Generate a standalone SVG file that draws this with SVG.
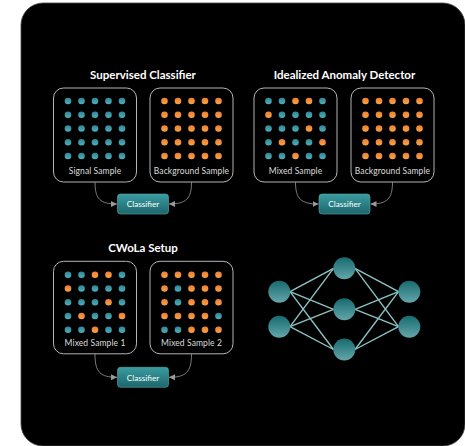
<svg xmlns="http://www.w3.org/2000/svg" xmlns:xlink="http://www.w3.org/1999/xlink" width="465" height="446" viewBox="0 0 465 446">
<defs>
<linearGradient id="gT" x1="0" y1="0" x2="0" y2="1"><stop offset="0" stop-color="#2f8593"/><stop offset="1" stop-color="#4fb0bc"/></linearGradient>
<linearGradient id="gO" x1="0" y1="0" x2="0" y2="1"><stop offset="0" stop-color="#ee7d35"/><stop offset="1" stop-color="#f7a442"/></linearGradient>
<linearGradient id="gC" x1="0" y1="0" x2="0" y2="1"><stop offset="0" stop-color="#3b9ca1"/><stop offset="1" stop-color="#1c666c"/></linearGradient>
<linearGradient id="gN" x1="0" y1="0" x2="0" y2="1"><stop offset="0" stop-color="#176a6f"/><stop offset="1" stop-color="#63a6aa"/></linearGradient>
<circle id="t" r="3.3" fill="url(#gT)"/>
<circle id="o" r="3.3" fill="url(#gO)"/>
<marker id="ah" viewBox="0 0 10 10" refX="10" refY="5" markerWidth="6" markerHeight="6" orient="auto" markerUnits="userSpaceOnUse"><path d="M0,0 L10,5 L0,10 z" fill="#9a9a9a"/></marker>
<style>
.title{font-family:Lato,"Open Sans",sans-serif;font-weight:bold;font-size:11.5px;fill:#ffffff;text-anchor:middle}
.lbl{font-family:Lato,"Open Sans",sans-serif;font-size:8.5px;fill:#dddddd;text-anchor:middle;letter-spacing:0.1px}
.box{fill:#000;stroke:#b5b5b5;stroke-width:1}
.clf{fill:url(#gC);stroke:#5aa9ad;stroke-width:0.6}
.clft{font-family:Lato,"Open Sans",sans-serif;font-size:8.2px;fill:#ffffff;text-anchor:middle}
.conn{fill:none;stroke:#8a8a8a;stroke-width:0.9;marker-end:url(#ah)}
.edge{stroke:#8cc3c3;stroke-width:1.4}
.node{fill:url(#gN)}
</style>
</defs>
<rect x="21" y="3" width="444" height="443" rx="22" fill="#000" stroke="#444" stroke-width="0.8"/>

<!-- Panel 1 -->
<g id="panel-supervised">
<text class="title" x="143" y="79">Supervised Classifier</text>
<g id="p1-signal">
<rect class="box" x="53.5" y="88" width="83" height="94" rx="10"/>
<g transform="translate(95,0)">
<use href="#t" x="-27" y="101"/><use href="#t" x="-13.5" y="101"/><use href="#t" x="0" y="101"/><use href="#t" x="13.5" y="101"/><use href="#t" x="27" y="101"/>
<use href="#t" x="-27" y="114.75"/><use href="#t" x="-13.5" y="114.75"/><use href="#t" x="0" y="114.75"/><use href="#t" x="13.5" y="114.75"/><use href="#t" x="27" y="114.75"/>
<use href="#t" x="-27" y="128.5"/><use href="#t" x="-13.5" y="128.5"/><use href="#t" x="0" y="128.5"/><use href="#t" x="13.5" y="128.5"/><use href="#t" x="27" y="128.5"/>
<use href="#t" x="-27" y="142.25"/><use href="#t" x="-13.5" y="142.25"/><use href="#t" x="0" y="142.25"/><use href="#t" x="13.5" y="142.25"/><use href="#t" x="27" y="142.25"/>
<use href="#t" x="-27" y="156"/><use href="#t" x="-13.5" y="156"/><use href="#t" x="0" y="156"/><use href="#t" x="13.5" y="156"/><use href="#t" x="27" y="156"/>
</g>
<text class="lbl" x="95" y="173.5">Signal Sample</text>
</g>
<g id="p1-background">
<rect class="box" x="150" y="88" width="83" height="94" rx="10"/>
<g transform="translate(191.5,0)">
<use href="#o" x="-27" y="101"/><use href="#o" x="-13.5" y="101"/><use href="#o" x="0" y="101"/><use href="#o" x="13.5" y="101"/><use href="#o" x="27" y="101"/>
<use href="#o" x="-27" y="114.75"/><use href="#o" x="-13.5" y="114.75"/><use href="#o" x="0" y="114.75"/><use href="#o" x="13.5" y="114.75"/><use href="#o" x="27" y="114.75"/>
<use href="#o" x="-27" y="128.5"/><use href="#o" x="-13.5" y="128.5"/><use href="#o" x="0" y="128.5"/><use href="#o" x="13.5" y="128.5"/><use href="#o" x="27" y="128.5"/>
<use href="#o" x="-27" y="142.25"/><use href="#o" x="-13.5" y="142.25"/><use href="#o" x="0" y="142.25"/><use href="#o" x="13.5" y="142.25"/><use href="#o" x="27" y="142.25"/>
<use href="#o" x="-27" y="156"/><use href="#o" x="-13.5" y="156"/><use href="#o" x="0" y="156"/><use href="#o" x="13.5" y="156"/><use href="#o" x="27" y="156"/>
</g>
<text class="lbl" x="191.5" y="173.5">Background Sample</text>
</g>
<g id="p1-classifier">
<rect class="clf" x="117.5" y="194" width="51" height="20" rx="3"/>
<text class="clft" x="143" y="207.3">Classifier</text>
</g>
</g>

<!-- Panel 2 -->
<g id="panel-idealized">
<text class="title" x="344.5" y="79">Idealized Anomaly Detector</text>
<g id="p2-mixed">
<rect class="box" x="254" y="88" width="83" height="94" rx="10"/>
<g transform="translate(295.5,0)">
<use href="#t" x="-27" y="101"/><use href="#t" x="-13.5" y="101"/><use href="#o" x="0" y="101"/><use href="#o" x="13.5" y="101"/><use href="#t" x="27" y="101"/>
<use href="#o" x="-27" y="114.75"/><use href="#t" x="-13.5" y="114.75"/><use href="#t" x="0" y="114.75"/><use href="#t" x="13.5" y="114.75"/><use href="#t" x="27" y="114.75"/>
<use href="#t" x="-27" y="128.5"/><use href="#t" x="-13.5" y="128.5"/><use href="#t" x="0" y="128.5"/><use href="#o" x="13.5" y="128.5"/><use href="#t" x="27" y="128.5"/>
<use href="#t" x="-27" y="142.25"/><use href="#o" x="-13.5" y="142.25"/><use href="#t" x="0" y="142.25"/><use href="#t" x="13.5" y="142.25"/><use href="#o" x="27" y="142.25"/>
<use href="#t" x="-27" y="156"/><use href="#t" x="-13.5" y="156"/><use href="#o" x="0" y="156"/><use href="#t" x="13.5" y="156"/><use href="#t" x="27" y="156"/>
</g>
<text class="lbl" x="295.5" y="173.5">Mixed Sample</text>
</g>
<g id="p2-background">
<rect class="box" x="351" y="88" width="83" height="94" rx="10"/>
<g transform="translate(392.5,0)">
<use href="#o" x="-27" y="101"/><use href="#o" x="-13.5" y="101"/><use href="#o" x="0" y="101"/><use href="#o" x="13.5" y="101"/><use href="#o" x="27" y="101"/>
<use href="#o" x="-27" y="114.75"/><use href="#o" x="-13.5" y="114.75"/><use href="#o" x="0" y="114.75"/><use href="#o" x="13.5" y="114.75"/><use href="#o" x="27" y="114.75"/>
<use href="#o" x="-27" y="128.5"/><use href="#o" x="-13.5" y="128.5"/><use href="#o" x="0" y="128.5"/><use href="#o" x="13.5" y="128.5"/><use href="#o" x="27" y="128.5"/>
<use href="#o" x="-27" y="142.25"/><use href="#o" x="-13.5" y="142.25"/><use href="#o" x="0" y="142.25"/><use href="#o" x="13.5" y="142.25"/><use href="#o" x="27" y="142.25"/>
<use href="#o" x="-27" y="156"/><use href="#o" x="-13.5" y="156"/><use href="#o" x="0" y="156"/><use href="#o" x="13.5" y="156"/><use href="#o" x="27" y="156"/>
</g>
<text class="lbl" x="392.5" y="173.5">Background Sample</text>
</g>
<g id="p2-classifier">
<rect class="clf" x="319" y="194" width="51" height="20" rx="3"/>
<text class="clft" x="344.5" y="207.3">Classifier</text>
</g>
</g>

<!-- Panel 3 -->
<g id="panel-cwola">
<text class="title" x="143" y="252.3">CWoLa Setup</text>
<g id="p3-mixed1">
<rect class="box" x="53.5" y="261.3" width="83" height="92.5" rx="10"/>
<g transform="translate(95,173.8)">
<use href="#t" x="-27" y="101"/><use href="#t" x="-13.5" y="101"/><use href="#o" x="0" y="101"/><use href="#o" x="13.5" y="101"/><use href="#t" x="27" y="101"/>
<use href="#o" x="-27" y="114.75"/><use href="#t" x="-13.5" y="114.75"/><use href="#t" x="0" y="114.75"/><use href="#t" x="13.5" y="114.75"/><use href="#t" x="27" y="114.75"/>
<use href="#t" x="-27" y="128.5"/><use href="#t" x="-13.5" y="128.5"/><use href="#t" x="0" y="128.5"/><use href="#o" x="13.5" y="128.5"/><use href="#t" x="27" y="128.5"/>
<use href="#t" x="-27" y="142.25"/><use href="#o" x="-13.5" y="142.25"/><use href="#t" x="0" y="142.25"/><use href="#t" x="13.5" y="142.25"/><use href="#o" x="27" y="142.25"/>
<use href="#t" x="-27" y="156"/><use href="#t" x="-13.5" y="156"/><use href="#o" x="0" y="156"/><use href="#t" x="13.5" y="156"/><use href="#t" x="27" y="156"/>
</g>
<text class="lbl" x="95" y="346">Mixed Sample 1</text>
</g>
<g id="p3-mixed2">
<rect class="box" x="150" y="261.3" width="83" height="92.5" rx="10"/>
<g transform="translate(191.5,173.8)">
<use href="#o" x="-27" y="101"/><use href="#o" x="-13.5" y="101"/><use href="#o" x="0" y="101"/><use href="#o" x="13.5" y="101"/><use href="#o" x="27" y="101"/>
<use href="#o" x="-27" y="114.75"/><use href="#t" x="-13.5" y="114.75"/><use href="#o" x="0" y="114.75"/><use href="#o" x="13.5" y="114.75"/><use href="#o" x="27" y="114.75"/>
<use href="#o" x="-27" y="128.5"/><use href="#t" x="-13.5" y="128.5"/><use href="#o" x="0" y="128.5"/><use href="#o" x="13.5" y="128.5"/><use href="#o" x="27" y="128.5"/>
<use href="#o" x="-27" y="142.25"/><use href="#o" x="-13.5" y="142.25"/><use href="#o" x="0" y="142.25"/><use href="#o" x="13.5" y="142.25"/><use href="#t" x="27" y="142.25"/>
<use href="#t" x="-27" y="156"/><use href="#t" x="-13.5" y="156"/><use href="#o" x="0" y="156"/><use href="#o" x="13.5" y="156"/><use href="#o" x="27" y="156"/>
</g>
<text class="lbl" x="191.5" y="346">Mixed Sample 2</text>
</g>
<g id="p3-classifier">
<rect class="clf" x="117.5" y="367.3" width="51" height="20" rx="3"/>
<text class="clft" x="143" y="380.6">Classifier</text>
</g>
</g>

<!-- Connectors -->
<g id="connectors">
<path class="conn" d="M95,182 C95,199 100,204 117,204"/>
<path class="conn" d="M191.5,182 C191.5,199 186,204 169,204"/>
<path class="conn" d="M295.5,182 C295.5,199 301,204 318.5,204"/>
<path class="conn" d="M392.5,182 C392.5,199 387,204 370.5,204"/>
<path class="conn" d="M95,354 C95,372 100,377.3 117,377.3"/>
<path class="conn" d="M191.5,354 C191.5,372 186,377.3 169,377.3"/>
</g>

<!-- Neural network -->
<g id="neural-net">
<g id="nn-edges">
<line class="edge" x1="290" y1="291.7" x2="333.5" y2="268.3"/>
<line class="edge" x1="290" y1="291.7" x2="333.5" y2="309.3"/>
<line class="edge" x1="290" y1="291.7" x2="333.5" y2="349.5"/>
<line class="edge" x1="290" y1="326.7" x2="333.5" y2="268.3"/>
<line class="edge" x1="290" y1="326.7" x2="333.5" y2="309.3"/>
<line class="edge" x1="290" y1="326.7" x2="333.5" y2="349.5"/>
<line class="edge" x1="355" y1="268.3" x2="398.5" y2="291.7"/>
<line class="edge" x1="355" y1="309.3" x2="398.5" y2="291.7"/>
<line class="edge" x1="355" y1="349.5" x2="398.5" y2="291.7"/>
<line class="edge" x1="355" y1="268.3" x2="398.5" y2="326.7"/>
<line class="edge" x1="355" y1="309.3" x2="398.5" y2="326.7"/>
<line class="edge" x1="355" y1="349.5" x2="398.5" y2="326.7"/>
</g>
<circle id="nn-in1" class="node" cx="279.3" cy="291.7" r="11"/>
<circle id="nn-in2" class="node" cx="279.3" cy="326.7" r="11"/>
<circle id="nn-h1" class="node" cx="344.3" cy="268.3" r="11"/>
<circle id="nn-h2" class="node" cx="344.3" cy="309.3" r="11"/>
<circle id="nn-h3" class="node" cx="344.3" cy="349.5" r="11"/>
<circle id="nn-out1" class="node" cx="409.3" cy="291.7" r="11"/>
<circle id="nn-out2" class="node" cx="409.3" cy="326.7" r="11"/>
</g>
</svg>
